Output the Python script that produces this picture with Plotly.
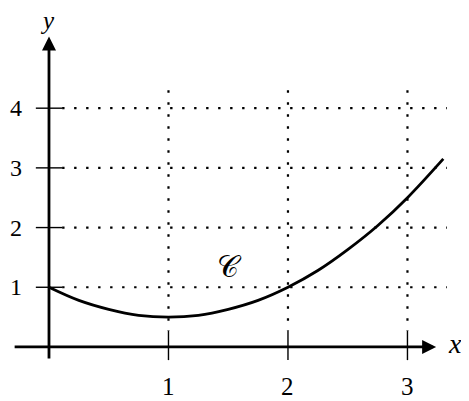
import plotly.graph_objects as go

# Curve points
curve_x = [0, 0.25, 0.5, 0.75, 1, 1.25, 1.5, 1.75, 2, 2.25, 2.5, 2.75, 3, 3.3]
curve_y = [1, 0.78, 0.63, 0.53, 0.5, 0.53, 0.63, 0.78, 1, 1.28, 1.63, 2.03, 2.5, 3.15]

x_ticks = [1, 2, 3]
x_tick_labels = ["1", "2", "3"]
y_ticks = [1, 2, 3, 4]
y_tick_labels = ["1", "2", "3", "4"]

curve_label = "𝒞"
curve_label_pos = (1.51, 1.34)

XR = [-0.343, 3.582]
YR = [-1.039, 5.678]
FONT = "Liberation Serif"

fig = go.Figure()

# dotted grid
DOT = "2.4px,9.6px"
for xv in x_ticks:
    fig.add_trace(go.Scatter(x=[xv, xv], y=[4.3, 0.27], mode="lines",
                             line=dict(color="black", width=2.2, dash=DOT),
                             hoverinfo="skip", showlegend=False))
for yv in y_ticks:
    fig.add_trace(go.Scatter(x=[0.11, 3.33], y=[yv, yv], mode="lines",
                             line=dict(color="black", width=2.2, dash=DOT),
                             hoverinfo="skip", showlegend=False))

# ticks
for xv in x_ticks:
    fig.add_trace(go.Scatter(x=[xv, xv], y=[-0.22, 0.27], mode="lines",
                             line=dict(color="black", width=1.4),
                             hoverinfo="skip", showlegend=False))
for yv in y_ticks:
    fig.add_trace(go.Scatter(x=[-0.11, 0.11], y=[yv, yv], mode="lines",
                             line=dict(color="black", width=1.4),
                             hoverinfo="skip", showlegend=False))

# curve
fig.add_trace(go.Scatter(x=curve_x, y=curve_y, mode="lines",
                         line=dict(color="black", width=2.8, shape="spline"),
                         hoverinfo="skip", showlegend=False))

# axes with arrows
fig.add_annotation(x=3.24, y=0, ax=-0.30, ay=0, xref="x", yref="y", axref="x", ayref="y",
                   text="", showarrow=True, arrowhead=2, arrowsize=1.0, arrowwidth=2.8,
                   arrowcolor="black")
fig.add_annotation(x=0, y=5.2, ax=0, ay=-0.22, xref="x", yref="y", axref="x", ayref="y",
                   text="", showarrow=True, arrowhead=2, arrowsize=1.0, arrowwidth=2.8,
                   arrowcolor="black")

# tick labels
for xv, lab in zip(x_ticks, x_tick_labels):
    fig.add_annotation(x=xv, y=-0.67, text=lab, showarrow=False,
                       font=dict(family=FONT, size=25, color="black"))
for yv, lab in zip(y_ticks, y_tick_labels):
    fig.add_annotation(x=-0.28, y=yv, text=lab, showarrow=False,
                       font=dict(family=FONT, size=24, color="black"))

# axis names
fig.add_annotation(x=-0.01, y=5.477, text="<i>y</i>", showarrow=False,
                   font=dict(family=FONT, size=25, color="black"))
fig.add_annotation(x=3.40, y=0.06, text="<i>x</i>", showarrow=False,
                   font=dict(family=FONT, size=28, color="black"))
fig.add_annotation(x=curve_label_pos[0], y=curve_label_pos[1], text=curve_label, showarrow=False,
                   font=dict(family=FONT, size=30, color="black"))

fig.update_layout(
    width=469, height=401,
    margin=dict(l=0, r=0, t=0, b=0),
    paper_bgcolor="white", plot_bgcolor="white",
    xaxis=dict(range=XR, visible=False, fixedrange=True),
    yaxis=dict(range=YR, visible=False, fixedrange=True),
)

fig.write_html("out.html")
